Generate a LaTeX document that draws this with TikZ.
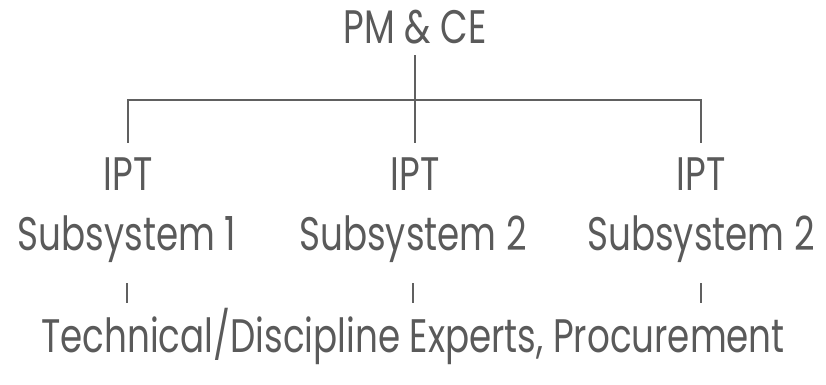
\documentclass[tikz,border=0pt]{standalone}
\usepackage{fontspec}
\setmainfont{Poppins}[FakeStretch=0.76]
\definecolor{inkgray}{HTML}{5A5A5A}
\definecolor{linegray}{HTML}{606060}

\begin{document}
\begin{tikzpicture}[x=1pt, y=1pt,
  every node/.style={anchor=base, inner xsep=0pt, text height=31pt, text depth=9pt,
    text=inkgray, font=\fontsize{47}{50}\selectfont},
  wire/.style={draw=linegray, line width=1.2pt}]
\useasboundingbox (0,0) rectangle (826,384);

\node[inner ysep=3pt] (pm) at (415, 341) {PM \& CE};

\node[inner ysep=16pt] (ipt1) at (128, 194) {IPT};
\node[inner ysep=16pt] (ipt2) at (415, 194) {IPT};
\node[inner ysep=16pt] (ipt3) at (701, 194) {IPT};

\node[inner ysep=24pt] (sub1) at (127, 134) {Subsystem 1};
\node[inner ysep=24pt] (sub2) at (413, 134) {Subsystem 2};
\node[inner ysep=24pt] (sub3) at (701, 134) {Subsystem 2};

\node[inner ysep=18pt] (expert) at (413, 32) {Technical/Discipline Experts, Procurement};

\coordinate (bus) at (415, 284);

\draw[wire] (pm.south) to (ipt2.north);
\draw[wire] (ipt1.north) |- (bus) -| (ipt3.north);
\draw[wire] (sub1.south) to (sub1.south |- expert.north);
\draw[wire] (sub2.south) to (sub2.south |- expert.north);
\draw[wire] (sub3.south) to (sub3.south |- expert.north);
\end{tikzpicture}
\end{document}
